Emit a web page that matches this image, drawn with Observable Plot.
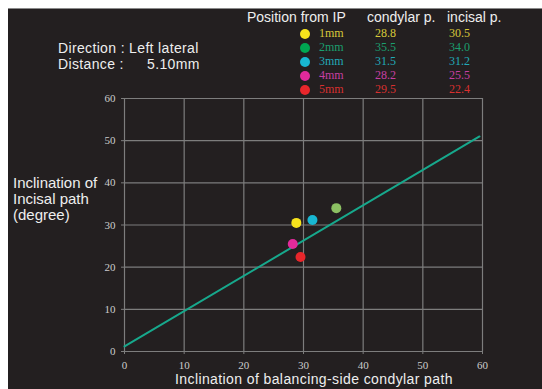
<!DOCTYPE html>
<html><head><meta charset="utf-8">
<script src="https://cdn.jsdelivr.net/npm/d3@7"></script>
<script src="https://cdn.jsdelivr.net/npm/@observablehq/plot@0.6"></script>
<style>
body{margin:0;background:#fff;}
#wrap{position:relative;width:542px;height:389px;overflow:hidden;}
#bg{position:absolute;left:8px;top:8px;right:0;bottom:0;background:#231f20;border-top:1px solid #8a8a8a;}
#chart{position:absolute;left:0;top:0;}
.t{position:absolute;white-space:nowrap;font-family:"Liberation Sans",Arial,sans-serif;color:#eeeeee;line-height:1;}
.s{font-family:"Liberation Serif","Times New Roman",serif;font-size:12px;}
</style></head><body>
<div id="wrap"><div id="bg"></div><div id="chart"></div></div>
<script>
const positions = ["1mm", "2mm", "3mm", "4mm", "5mm"];
const condylar = [28.8, 35.5, 31.5, 28.2, 29.5];
const incisal = [30.5, 34.0, 31.2, 25.5, 22.4];
const pointColors = ["#f7e31c", "#8cc063", "#18b7d2", "#e22a9b", "#e8262b"];
const legendDotColors = ["#f7e31c", "#00a651", "#18b7d2", "#e22a9b", "#e8262b"];
const legendTextColors = ["#d8c83a", "#1b9e6e", "#22a9b8", "#c63fa3", "#d8302f"];
const lineX = [0, 59.5];
const lineY = [1.2, 51.0];
const ticks = [0, 10, 20, 30, 40, 50, 60];

const pts = positions.map((p, i) => ({p, x: condylar[i], y: incisal[i], c: pointColors[i]}));
const line = lineX.map((x, i) => ({x, y: lineY[i]}));
const serif = "'Liberation Serif','Times New Roman',serif";

const plot = Plot.plot({
  width: 542, height: 389,
  marginLeft: 124, marginRight: 60, marginTop: 98, marginBottom: 38,
  style: {background: "transparent", color: "#cccccc", fontFamily: serif, fontSize: "11px"},
  x: {domain: [0, 60], ticks, label: null},
  y: {domain: [0, 60], ticks, label: null},
  marks: [
    Plot.gridX(ticks, {stroke: "#7d7d7d", strokeOpacity: 1, strokeWidth: 1.2}),
    Plot.gridY(ticks, {stroke: "#7d7d7d", strokeOpacity: 1, strokeWidth: 1.2}),
    Plot.axisX({ticks, tickSize: 3, tickPadding: 7, stroke: "#7d7d7d", fill: "#cccccc", fontFamily: serif, fontSize: 11}),
    Plot.axisY({ticks, tickSize: 3, tickPadding: 6, stroke: "#7d7d7d", fill: "#cccccc", fontFamily: serif, fontSize: 11}),
    Plot.line(line, {x: "x", y: "y", stroke: "#17a88c", strokeWidth: 2}),
    Plot.dot(pts, {x: "x", y: "y", fill: "c", r: 5})
  ]
});
document.getElementById("chart").appendChild(plot);

const wrap = document.getElementById("wrap");
function txt(s, left, top, size, color, cls, ls) {
  const d = document.createElement("div");
  d.className = "t" + (cls ? " " + cls : "");
  d.textContent = s;
  d.style.left = left + "px"; d.style.top = top + "px";
  if (size) d.style.fontSize = size + "px";
  if (color) d.style.color = color;
  if (ls) d.style.letterSpacing = ls + "px";
  wrap.appendChild(d);
  return d;
}
txt("Position from IP", 247, 10, 14);
txt("condylar p.", 367, 10, 14);
txt("incisal p.", 447, 10, 14);
txt("Direction : Left lateral", 58, 41, 14, null, null, 0.35);
txt("Distance :", 58, 57, 14, null, null, 0.35);
txt("5.10mm", 147, 57, 14, null, null, 0.35);
txt("Inclination of", 13, 175, 15);
txt("Incisal path", 13, 191, 15);
txt("(degree)", 13, 207, 15);
const xl = txt("Inclination of balancing-side condylar path", 0, 372, 14, null, null, 0.4);
xl.style.left = (314 - xl.offsetWidth / 2) + "px";

positions.forEach((p, i) => {
  const y = 27 + i * 14;
  const dot = document.createElement("div");
  dot.style.cssText = `position:absolute;left:300px;top:${y + 1.5}px;width:10px;height:10px;border-radius:50%;background:${legendDotColors[i]}`;
  wrap.appendChild(dot);
  txt(p, 319, y, 12, legendTextColors[i], "s");
  txt(condylar[i].toFixed(1), 375, y, 12, legendTextColors[i], "s");
  txt(incisal[i].toFixed(1), 449, y, 12, legendTextColors[i], "s");
});
</script>
</body></html>
